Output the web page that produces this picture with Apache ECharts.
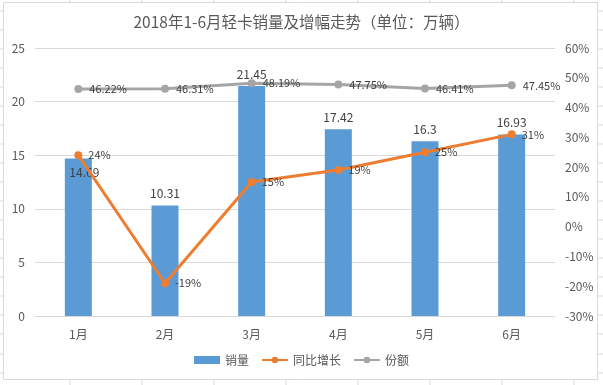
<!DOCTYPE html>
<html>
<head>
<meta charset="utf-8">
<script src="https://cdn.jsdelivr.net/npm/echarts@6/dist/echarts.min.js"></script>
<style>html,body{margin:0;padding:0;background:#fff;}#c{width:603px;height:385px;}</style>
</head>
<body>
<div id="c"></div>
<script>
var categories = ['1月','2月','3月','4月','5月','6月'];
var sales = [14.69, 10.31, 21.45, 17.42, 16.3, 16.93];
var growth = [24, -19, 15, 19, 25, 31];
var share = [46.22, 46.31, 48.19, 47.75, 46.41, 47.45];
var titleText = '2018年1-6月轻卡销量及增幅走势（单位：万辆）';

var font = '"Noto Sans CJK SC", "Noto Sans", sans-serif';
var chart = echarts.init(document.getElementById('c'));

// decorative spreadsheet cell lines outside the chart frame
var deco = [];
var rowYs = [11, 30, 49, 68, 87, 106, 125, 144, 163, 182, 201, 220, 239, 258, 277, 296, 315, 334, 354, 373];
rowYs.forEach(function (y) {
  deco.push({type:'line', shape:{x1:0,y1:y,x2:3,y2:y}, style:{stroke:'#d9d9d9', lineWidth:1}, silent:true});
  deco.push({type:'line', shape:{x1:598,y1:y,x2:603,y2:y}, style:{stroke:'#d9d9d9', lineWidth:1}, silent:true});
});
[70,142,214,286,358,430,502,574].forEach(function (x) {
  deco.push({type:'line', shape:{x1:x,y1:380,x2:x,y2:385}, style:{stroke:'#d9d9d9', lineWidth:1}, silent:true});
  deco.push({type:'line', shape:{x1:x,y1:0,x2:x,y2:2}, style:{stroke:'#d9d9d9', lineWidth:1}, silent:true});
});
deco.push({type:'rect', shape:{x:3.5,y:2.5,width:594,height:377}, style:{fill:null, stroke:'#d9d9d9', lineWidth:1}, silent:true, z:-1});

var salesData = sales.map(function (v, i) {
  if (i === 0) return {value: v, label: {position: 'insideTop', offset: [6, 2]}};
  return v;
});

chart.setOption({
  animation: false,
  backgroundColor: '#fff',
  textStyle: {fontFamily: font},
  graphic: deco,
  title: {
    text: titleText,
    left: 'center',
    top: 9,
    textStyle: {fontFamily: font, fontSize: 15.5, fontWeight: 'normal', color: '#595959'}
  },
  legend: {
    bottom: 14,
    left: 'center',
    itemGap: 12,
    itemWidth: 26,
    itemHeight: 8,
    textStyle: {fontFamily: font, fontSize: 12, color: '#595959'},
    data: [
      {name: '销量', icon: 'rect'},
      {name: '同比增长'},
      {name: '份额'}
    ]
  },
  grid: {left: 35, right: 48, top: 48, bottom: 69, containLabel: false},
  xAxis: {
    type: 'category',
    data: categories,
    axisLine: {lineStyle: {color: '#d9d9d9'}},
    axisTick: {show: false},
    axisLabel: {color: '#595959', fontSize: 12, margin: 12, fontFamily: font}
  },
  yAxis: [
    {
      type: 'value', min: 0, max: 25, interval: 5,
      axisLine: {show: false}, axisTick: {show: false},
      axisLabel: {color: '#595959', fontSize: 12, margin: 10, fontFamily: font},
      splitLine: {lineStyle: {color: '#d9d9d9'}}
    },
    {
      type: 'value', min: -30, max: 60, interval: 10,
      axisLine: {show: false}, axisTick: {show: false},
      axisLabel: {color: '#595959', fontSize: 12, margin: 10, formatter: '{value}%', fontFamily: font},
      splitLine: {show: false}
    }
  ],
  series: [
    {
      name: '销量', type: 'bar', data: salesData, barWidth: 27,
      itemStyle: {color: '#5B9BD5'},
      label: {show: true, position: 'top', distance: 6, color: '#404040', fontSize: 12, fontFamily: font}
    },
    {
      name: '同比增长', type: 'line', yAxisIndex: 1, data: growth,
      symbol: 'circle', symbolSize: 8,
      lineStyle: {color: '#ED7D31', width: 3},
      itemStyle: {color: '#ED7D31'},
      label: {show: true, position: 'right', distance: 6, color: '#404040', fontSize: 11, formatter: '{c}%', fontFamily: font},
      z: 5
    },
    {
      name: '份额', type: 'line', yAxisIndex: 1, data: share,
      symbol: 'circle', symbolSize: 8,
      lineStyle: {color: '#A5A5A5', width: 3},
      itemStyle: {color: '#A5A5A5'},
      label: {show: true, position: 'right', distance: 7, color: '#404040', fontSize: 11, formatter: '{c}%', fontFamily: font},
      z: 4
    }
  ]
});
</script>
</body>
</html>
